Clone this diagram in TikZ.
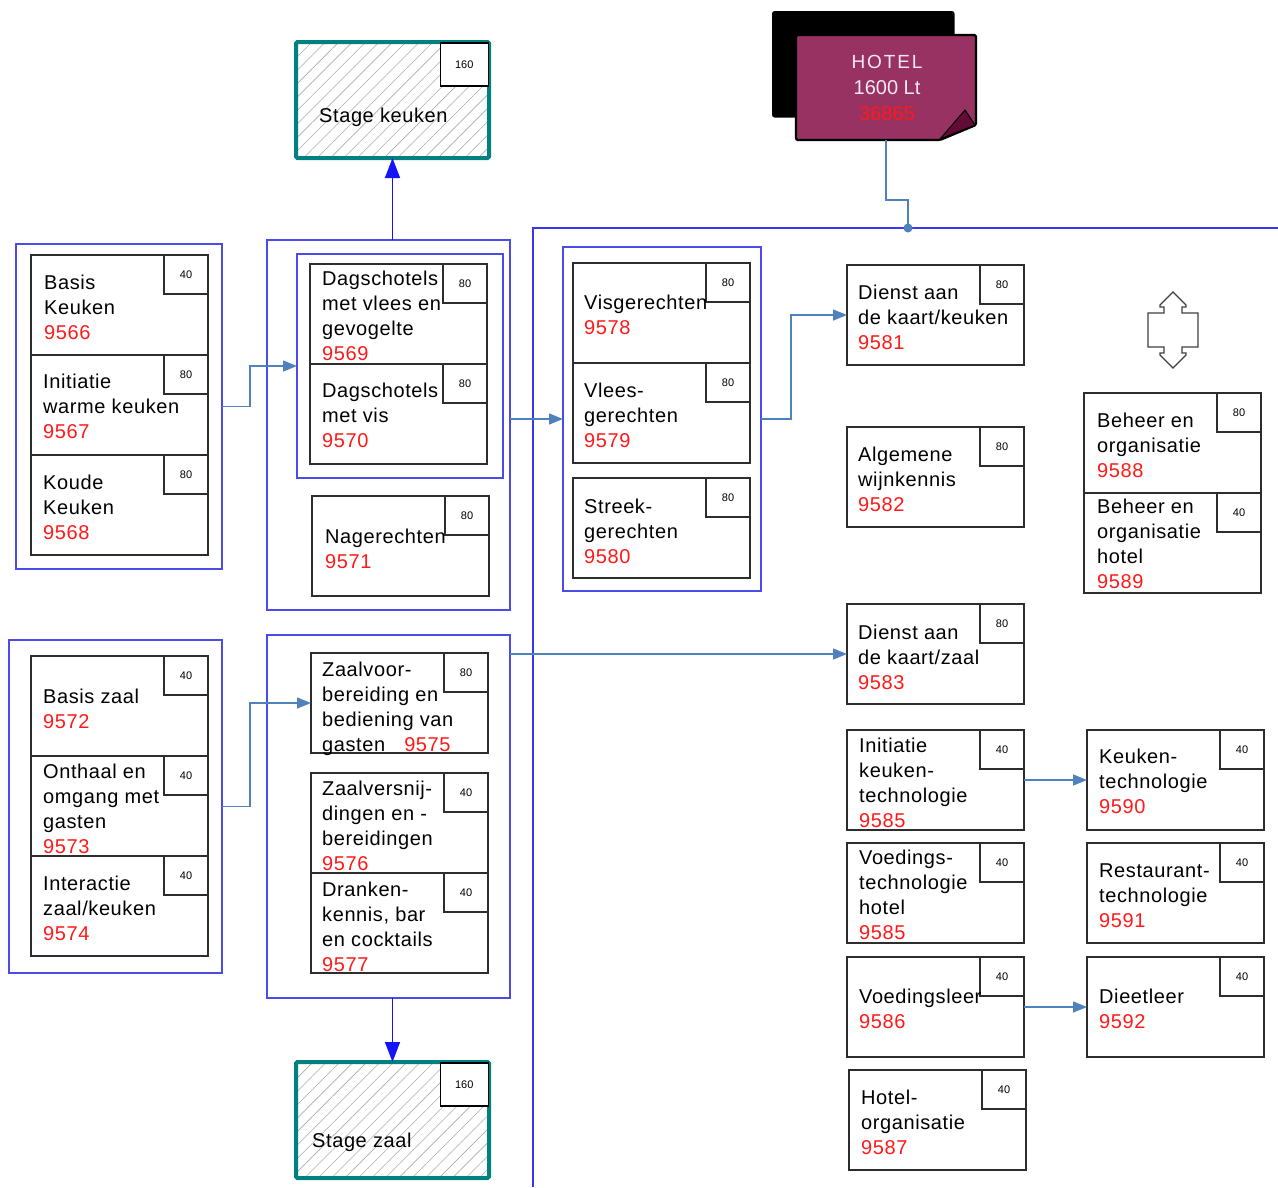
\documentclass[tikz,border=0pt]{standalone}
\usepackage{fontspec}
\setmainfont{Liberation Sans}
\usetikzlibrary{arrows.meta,calc,patterns.meta}
\definecolor{grpblue}{RGB}{75,75,232}
\definecolor{mainblue}{RGB}{55,55,240}
\definecolor{connblue}{RGB}{79,129,189}
\definecolor{stageblue}{RGB}{20,20,250}
\definecolor{numred}{RGB}{255,25,25}
\definecolor{boxline}{RGB}{45,45,45}
\definecolor{tealb}{RGB}{0,128,128}
\definecolor{hotelmag}{RGB}{152,50,98}
\definecolor{foldcol}{RGB}{100,10,55}
\definecolor{hoteltxt}{RGB}{245,232,245}
\newcommand\R[1]{\textcolor{numred}{#1}}
\tikzset{
  cbox/.style={draw=boxline, line width=1.5pt, anchor=north west, minimum width=177pt, minimum height=100pt, inner sep=0pt, outer sep=0pt},
  nbox/.style={draw=boxline, line width=1.5pt, anchor=north east, minimum width=44pt, minimum height=39pt, inner sep=0pt, outer sep=0pt, font=\fontsize{11}{13}\selectfont},
  txt/.style={anchor=base west, inner sep=0pt, font=\fontsize{20}{24}\selectfont\addfontfeature{LetterSpace=3}},
  grp/.style={draw=grpblue, line width=1.6pt, anchor=north west, inner sep=0pt, outer sep=0pt},
  conn/.style={draw=connblue, line width=1.4pt, -{Triangle[length=14pt,width=11pt]}},
  connplain/.style={draw=connblue, line width=1.4pt},
  stagearr/.style={draw=stageblue, line width=1.5pt, -{Triangle[length=20pt,width=15pt]}},
  stagebox/.style={draw=tealb, line width=4pt, rounded corners=1.5pt, anchor=north west, minimum width=193pt, minimum height=116pt, inner sep=0pt, outer sep=0pt, pattern={Lines[angle=45,distance=9.5pt,line width=0.6pt]}, pattern color=gray!65},
  snbox/.style={draw=black, fill=white, line width=1.5pt, anchor=north east, minimum width=48pt, minimum height=43pt, inner sep=0pt, font=\fontsize{11}{13}\selectfont},
  mainline/.style={draw=mainblue, line width=1.6pt},
}
% #1 name, #2 x, #3 y (top), #4 number, #5 text x, #6 first baseline, #7 lines
\newcommand\course[7]{%
  \node[cbox] (#1) at (#2,#3) {};
  \node[nbox] (#1n) at (#1.north east) {#4};
  \foreach \lnx [count=\i from 0] in {#7} {\node[txt] (#1t\i) at (#5,#6+25.3*\i) {\lnx};}
}
\begin{document}
\begin{tikzpicture}[x=1pt,y=-1pt]
\useasboundingbox (0,0) rectangle (1278,1187);
\fill[white] (0,0) rectangle (1278,1187);

% main bus lines
\coordinate (busB) at (533,1187);
\coordinate (busTL) at (533,228);
\coordinate (busR) at (1278,228);
\coordinate (dot) at (908,228);
\draw[mainline] (busB) -- (busTL) -- (busR);

% hotel
\node[draw=black, fill=black, line width=1.5pt, rounded corners=2pt, anchor=north west, minimum width=181pt, minimum height=105pt, inner sep=0pt] (hotelback) at (772,11) {};
\node[anchor=north west, minimum width=180pt, minimum height=105pt, inner sep=0pt, outer sep=0pt] (hotel) at (796,35) {};
\filldraw[fill=hotelmag, draw=black, line width=2.2pt, rounded corners=1.5pt] (hotel.north west) -- (hotel.north east) -- ($(hotel.south east)+(0,-15)$) -- ($(hotel.south east)+(-36,0)$) -- (hotel.south west) -- cycle;
\filldraw[fill=foldcol, draw=black, line width=1pt] ($(hotel.south east)+(-36,-1)$) -- ($(hotel.south east)+(-11,-30)$) -- ($(hotel.south east)+(-1,-15)$) -- cycle;
\node[anchor=base, inner sep=0pt, text=hoteltxt, font=\fontsize{19}{23}\selectfont\addfontfeature{LetterSpace=10}] (hotelt1) at (887,68) {HOTEL};
\node[anchor=base, inner sep=0pt, text=hoteltxt, font=\fontsize{20}{24}\selectfont] (hotelt2) at (887,94) {1600 Lt};
\node[anchor=base, inner sep=0pt, text=numred, font=\fontsize{20}{24}\selectfont] (hotelt3) at (887,120) {36865};
\draw[connplain] (hotel.south) -- ++(0,60) -| (dot);
\fill[connblue] (dot) circle (4.5pt);

% groups
\node[grp, minimum width=206pt, minimum height=325pt] (gK) at (16,244) {};
\node[grp, minimum width=243pt, minimum height=370pt] (gM1) at (267,240) {};
\node[grp, minimum width=206pt, minimum height=224pt] (gM1i) at (297,254) {};
\node[grp, minimum width=213pt, minimum height=333pt] (gZ) at (9,640) {};
\node[grp, minimum width=243pt, minimum height=363pt] (gM2) at (267,635) {};
\node[grp, minimum width=198pt, minimum height=344pt] (gV) at (563,247) {};

% stage boxes
\node[stagebox] (sk) at (296,42) {};
\node[snbox] (skn) at (sk.north east) {160};
\node[txt] (skt) at (319,122) {Stage keuken};
\node[stagebox] (sz) at (296,1062) {};
\node[snbox] (szn) at (sz.north east) {160};
\node[txt] (szt) at (312,1147) {Stage zaal};

% courses: keuken left
\course{c9566}{31}{255}{40}{44}{289}{Basis,Keuken,\R{9566}}
\course{c9567}{31}{355}{80}{43}{388}{Initiatie,warme keuken,\R{9567}}
\course{c9568}{31}{455}{80}{43}{489}{Koude,Keuken,\R{9568}}
% middle 1
\course{c9569}{310}{264}{80}{322}{285}{Dagschotels,met vlees en,gevogelte,\R{9569}}
\course{c9570}{310}{364}{80}{322}{397}{Dagschotels,met vis,\R{9570}}
\course{c9571}{312}{496}{80}{325}{543}{Nagerechten,\R{9571}}
% zaal left
\course{c9572}{31}{656}{40}{43}{703}{Basis zaal,\R{9572}}
\course{c9573}{31}{756}{40}{43}{778}{Onthaal en,omgang met,gasten,\R{9573}}
\course{c9574}{31}{856}{40}{43}{890}{Interactie,zaal/keuken,\R{9574}}
% middle 2
\course{c9575}{311}{653}{80}{322}{676}{Zaalvoor-,bereiding en,bediening van,gasten\hspace{19pt}\R{9575}}
\course{c9576}{311}{773}{40}{322}{795}{Zaalversnij-,dingen en -,bereidingen,\R{9576}}
\course{c9577}{311}{873}{40}{322}{896}{Dranken-,{kennis, bar},en cocktails,\R{9577}}
% visgerechten group
\course{c9578}{573}{263}{80}{584}{309}{Visgerechten,\R{9578}}
\course{c9579}{573}{363}{80}{584}{397}{Vlees-,gerechten,\R{9579}}
\course{c9580}{573}{478}{80}{584}{513}{Streek-,gerechten,\R{9580}}
% right column 1
\course{c9581}{847}{265}{80}{858}{299}{Dienst aan,de kaart/keuken,\R{9581}}
\course{c9582}{847}{427}{80}{858}{461}{Algemene,wijnkennis,\R{9582}}
\course{c9583}{847}{604}{80}{858}{639}{Dienst aan,de kaart/zaal,\R{9583}}
\course{c9585a}{847}{730}{40}{859}{752}{Initiatie,keuken-,technologie,\R{9585}}
\course{c9585b}{847}{843}{40}{859}{864}{Voedings-,technologie,hotel,\R{9585}}
\course{c9586}{847}{957}{40}{859}{1003}{Voedingsleer,\R{9586}}
\course{c9587}{849}{1070}{40}{861}{1104}{Hotel-,organisatie,\R{9587}}
% right column 2
\course{c9588}{1084}{393}{80}{1097}{427}{Beheer en,organisatie,\R{9588}}
\course{c9589}{1084}{493}{40}{1097}{513}{Beheer en,organisatie,hotel,\R{9589}}
\course{c9590}{1087}{730}{40}{1099}{763}{Keuken-,technologie,\R{9590}}
\course{c9591}{1087}{843}{40}{1099}{877}{Restaurant-,technologie,\R{9591}}
\course{c9592}{1087}{957}{40}{1099}{1003}{Dieetleer,\R{9592}}

% connectors
\draw[conn] (gK.east) -- ++(28,0) |- (gM1i.west);
\draw[conn] (gZ.east) -- ++(28,0) |- (c9575.west);
\draw[conn] (gM1.east |- gV.west) -- (gV.west);
\draw[conn] (gV.east) -- ++(30,0) |- (c9581.west);
\draw[conn] (gM2.east |- c9583.west) -- (c9583.west);
\draw[conn] (c9585a.east) -- (c9590.west);
\draw[conn] (c9586.east) -- (c9592.west);
\draw[stagearr] (gM1.north -| sk.south) -- (sk.south);
\draw[stagearr] (gM2.south -| sz.north) -- (sz.north);

% double arrow shape
\draw[line width=1.3pt, draw=black!75, line join=miter]
  (1173,292) -- (1160,305) -- (1160,307) -- (1164,307) -- (1164,313) -- (1148,313)
  -- (1148,347) -- (1164,347) -- (1164,353) -- (1160,353) -- (1160,355) -- (1173,368)
  -- (1186,355) -- (1186,353) -- (1182,353) -- (1182,347) -- (1198,347) -- (1198,313)
  -- (1182,313) -- (1182,307) -- (1186,307) -- (1186,305) -- cycle;
\end{tikzpicture}
\end{document}
